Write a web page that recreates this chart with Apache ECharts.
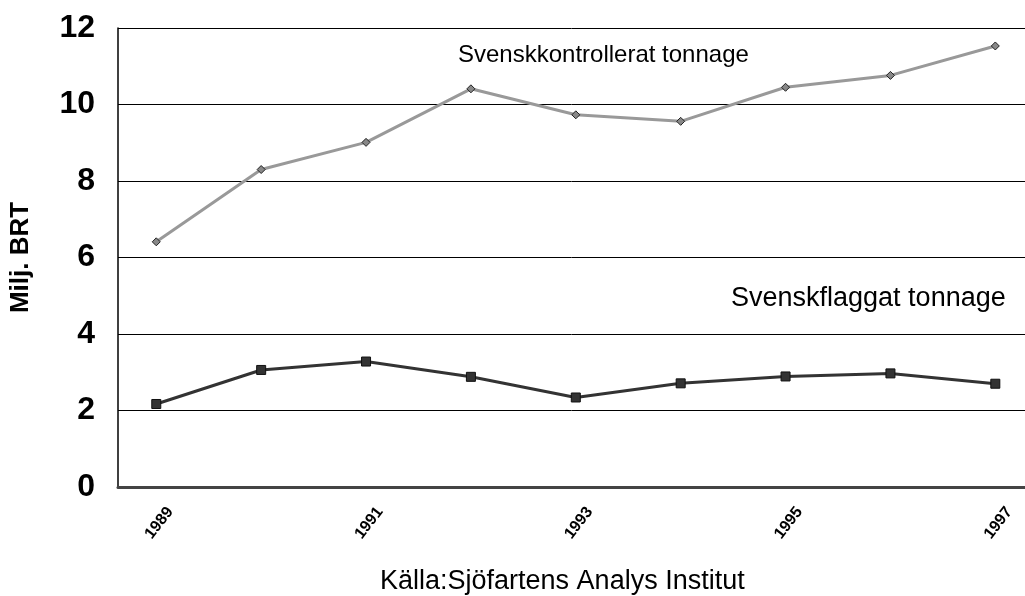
<!DOCTYPE html>
<html>
<head>
<meta charset="utf-8">
<script src="https://cdn.jsdelivr.net/npm/echarts@6/dist/echarts.min.js"></script>
<style>
  html, body { margin: 0; padding: 0; background: #fff; }
  #chart { width: 1025px; height: 596px; }
</style>
</head>
<body>
<div id="chart"></div>
<script>
// år och värden (milj. BRT)
const years = [1989, 1990, 1991, 1992, 1993, 1994, 1995, 1996, 1997];
const yearLabels = [1989, 1991, 1993, 1995, 1997];
const kontrollerat = [6.41, 8.30, 9.01, 10.41, 9.73, 9.56, 10.45, 10.76, 11.53];
const flaggat = [2.17, 3.06, 3.28, 2.88, 2.34, 2.71, 2.89, 2.97, 2.70];

const seriesNames = ['Svenskkontrollerat tonnage', 'Svenskflaggat tonnage'];
const yAxisName = 'Milj. BRT';
const sourceText = 'Källa:Sjöfartens Analys Institut';

const font = '"Liberation Sans", Arial, sans-serif';

const myChart = echarts.init(document.getElementById('chart'));

const option = {
  backgroundColor: '#fff',
  animation: false,
  grid: {
    left: 117,
    right: 0,
    top: 28,
    bottom: 109,
    containLabel: false
  },
  xAxis: {
    type: 'value',
    min: 1988.635,
    max: 1997.283,
    axisLine: {
      show: true,
      onZero: false,
      lineStyle: { color: '#444', width: 3 }
    },
    axisTick: { show: false },
    splitLine: { show: false },
    axisLabel: {
      customValues: yearLabels,
      rotate: 52,
      align: 'center',
      verticalAlign: 'middle',
      margin: 40,
      padding: [0, 0, 0, 10],
      fontFamily: font,
      fontWeight: 'bold',
      fontSize: 16,
      color: '#000',
      formatter: (v) => String(v)
    }
  },
  yAxis: {
    type: 'value',
    min: 0,
    max: 12,
    interval: 2,
    name: yAxisName,
    nameLocation: 'middle',
    nameGap: 84,
    nameRotate: 90,
    nameTextStyle: {
      fontFamily: font,
      fontWeight: 'bold',
      fontSize: 26,
      color: '#000'
    },
    axisLine: {
      show: true,
      lineStyle: { color: '#000', width: 1.5 }
    },
    axisTick: { show: false },
    axisLabel: {
      margin: 23,
      fontFamily: font,
      fontWeight: 'bold',
      fontSize: 32,
      color: '#000'
    },
    splitLine: {
      show: true,
      lineStyle: { color: '#000', width: 1 }
    }
  },
  graphic: [
    {
      type: 'text',
      left: 458,
      top: 43,
      style: {
        text: seriesNames[0],
        font: '24px ' + font,
        fill: '#000'
      }
    },
    {
      type: 'text',
      left: 731,
      top: 285,
      style: {
        text: seriesNames[1],
        font: '27px ' + font,
        fill: '#000'
      }
    },
    {
      type: 'text',
      left: 380,
      top: 568,
      style: {
        text: sourceText,
        font: '27px ' + font,
        fill: '#000'
      }
    }
  ],
  series: [
    {
      name: seriesNames[0],
      type: 'line',
      data: years.map((y, i) => [y, kontrollerat[i]]),
      symbol: 'diamond',
      symbolSize: 8,
      lineStyle: { color: '#999', width: 3 },
      itemStyle: { color: '#888', borderColor: '#222', borderWidth: 1 },
      z: 3
    },
    {
      name: seriesNames[1],
      type: 'line',
      data: years.map((y, i) => [y, flaggat[i]]),
      symbol: 'rect',
      symbolSize: 9,
      lineStyle: { color: '#333', width: 3 },
      itemStyle: { color: '#333', borderColor: '#111', borderWidth: 1 },
      z: 3
    }
  ]
};

myChart.setOption(option);
</script>
</body>
</html>
